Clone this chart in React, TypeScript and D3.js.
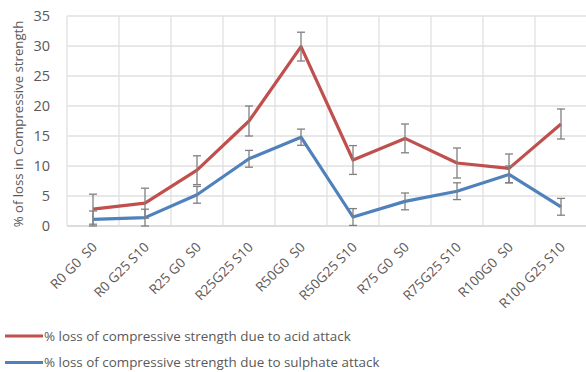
import React, { useEffect, useRef } from "react";
import * as d3 from "d3";

const categories = [
  "R0 G0  S0",
  "R0 G25 S10",
  "R25 G0  S0",
  "R25G25 S10",
  "R50G0  S0",
  "R50G25 S10",
  "R75 G0  S0",
  "R75G25 S10",
  "R100G0  S0",
  "R100 G25 S10",
];
const acidValues = [2.8, 3.8, 9.3, 17.5, 29.9, 11.0, 14.6, 10.5, 9.6, 17.0];
const acidErrors = [2.5, 2.5, 2.4, 2.5, 2.4, 2.4, 2.4, 2.5, 2.4, 2.5];
const sulphateValues = [1.1, 1.4, 5.2, 11.2, 14.8, 1.5, 4.1, 5.8, 8.6, 3.2];
const sulphateErrors = [1.4, 1.4, 1.4, 1.4, 1.35, 1.4, 1.4, 1.4, 1.4, 1.4];
const yTicks = [0, 5, 10, 15, 20, 25, 30, 35];
const legendLabels = [
  "% loss of compressive strength due to acid attack",
  "% loss of compressive strength due to sulphate attack",
];

const W = 586;
const H = 372;
const FONT = "'Open Sans', sans-serif";

const App = () => {
  const ref = useRef<SVGSVGElement>(null);

  useEffect(() => {
    const svg = d3.select(ref.current);
    svg.selectAll("*").remove();

    const left = 67, right = 587, top = 16, bottom = 226;

    const x = d3.scaleBand().domain(categories).range([left, right]);
    const y = d3.scaleLinear().domain([0, 35]).range([bottom, top]);
    const cx = (c: string) => (x(c) as number) + x.bandwidth() / 2;

    // grid
    svg.append("g")
      .selectAll("line")
      .data(yTicks)
      .enter()
      .append("line")
      .attr("x1", left)
      .attr("x2", right)
      .attr("y1", (d) => y(d))
      .attr("y2", (d) => y(d))
      .attr("stroke", (d) => (d === 0 ? "#d0d0d0" : "#e0e0e0"))
      .attr("stroke-width", 1.3);

    svg.append("g")
      .selectAll("line")
      .data(categories)
      .enter()
      .append("line")
      .attr("x1", (d) => x(d) as number)
      .attr("x2", (d) => x(d) as number)
      .attr("y1", top)
      .attr("y2", bottom)
      .attr("stroke", "#e0e0e0")
      .attr("stroke-width", 1.3);

    // y labels
    svg.append("g")
      .selectAll("text")
      .data(yTicks)
      .enter()
      .append("text")
      .attr("x", 50)
      .attr("y", (d) => y(d))
      .attr("dy", "0.35em")
      .attr("text-anchor", "end")
      .attr("font-family", FONT)
      .attr("font-size", 14.5)
      .attr("fill", "#595959")
      .text((d) => d);

    // y title
    svg.append("text")
      .attr("transform", `translate(23,124) rotate(-90)`)
      .attr("text-anchor", "middle")
      .attr("font-family", FONT)
      .attr("font-size", 13.2)
      .attr("fill", "#595959")
      .text("% of loss in Compressive strength");

    // x labels
    svg.append("g")
      .selectAll("text")
      .data(categories)
      .enter()
      .append("text")
      .attr("transform", (d) => `translate(${cx(d) + 5},${bottom + 22}) rotate(-45)`)
      .attr("text-anchor", "end")
      .attr("font-family", FONT)
      .attr("font-size", 13.5)
      .attr("fill", "#595959")
      .style("white-space", "pre")
      .text((d) => d);

    const series = [
      { values: acidValues, errors: acidErrors, color: "#c0504d" },
      { values: sulphateValues, errors: sulphateErrors, color: "#4f81bd" },
    ];

    const line = d3
      .line<number>()
      .x((_, i) => cx(categories[i]))
      .y((d) => y(d));

    series.forEach((s) => {
      svg.append("path")
        .attr("d", line(s.values))
        .attr("fill", "none")
        .attr("stroke", s.color)
        .attr("stroke-width", 3.2)
        .attr("stroke-linejoin", "round");
    });

    series.forEach((s) => {
      const g = svg.append("g").attr("stroke", "#808080").attr("stroke-width", 1.3);
      s.values.forEach((v, i) => {
        const px = cx(categories[i]);
        const lo = Math.max(0, v - s.errors[i]);
        const hi = v + s.errors[i];
        g.append("line").attr("x1", px).attr("x2", px).attr("y1", y(lo)).attr("y2", y(hi));
        g.append("line").attr("x1", px - 4).attr("x2", px + 4).attr("y1", y(lo)).attr("y2", y(lo));
        g.append("line").attr("x1", px - 4).attr("x2", px + 4).attr("y1", y(hi)).attr("y2", y(hi));
      });
    });

    // legend
    const legend = svg.append("g")
      .selectAll("g")
      .data(series)
      .enter()
      .append("g")
      .attr("transform", (_, i) => `translate(0,${336 + i * 26.5})`);
    legend.append("line")
      .attr("x1", 5)
      .attr("x2", 43)
      .attr("stroke", (d) => d.color)
      .attr("stroke-width", 3.2);
    legend.append("text")
      .attr("x", 44)
      .attr("dy", "0.35em")
      .attr("font-family", FONT)
      .attr("font-size", 13.4)
      .attr("fill", "#595959")
      .text((_, i) => legendLabels[i]);
  }, []);

  return (
    <svg ref={ref} width={W} height={H} style={{ position: "absolute", left: 0, top: 0, background: "#fff" }} />
  );
};

export default App;
